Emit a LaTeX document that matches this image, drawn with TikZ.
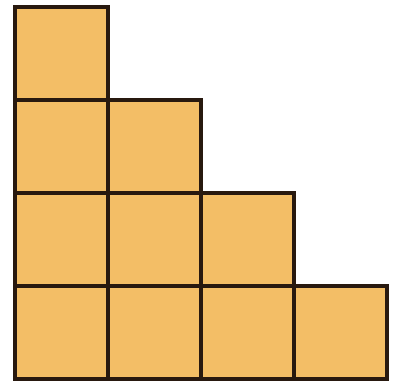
\documentclass[tikz,border=0pt]{standalone}
\usepackage{tikz}
\definecolor{tileOrange}{RGB}{243,190,102}
\definecolor{tileEdge}{RGB}{40,25,15}

\begin{document}
\begin{tikzpicture}[x=1pt,y=1pt,
        tile/.style={draw=tileEdge,fill=tileOrange,line width=3.2pt,minimum size=93pt,inner sep=0pt}
      ]
        \useasboundingbox (0,0) rectangle (393,381);
        % staircase: column i, row r from the bottom
        \foreach \r in {0,...,3}{
          \pgfmathtruncatemacro{\last}{3-\r}
          \foreach \i in {0,...,\last}{
            \node[tile] (t\i\r) at (61.5+93*\i,48.5+93*\r) {};
          }
        }
      \end{tikzpicture}
\end{document}
